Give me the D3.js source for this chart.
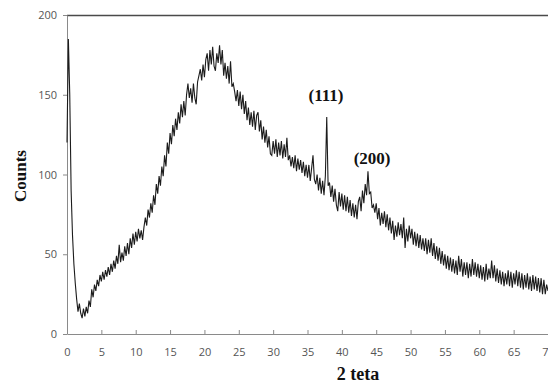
<!DOCTYPE html>
<html>
<head>
<meta charset="utf-8">
<script src="https://cdn.jsdelivr.net/npm/d3@7"></script>
<style>
  html, body { margin: 0; padding: 0; background: #fff; }
  svg { display: block; }
</style>
</head>
<body>
<svg id="chart" width="548" height="383"></svg>
<script>
// Scan grid: 0..70 degrees, 0.2 degree step
const ANGLE_STEP = 0.2;
const angles = d3.range(0, 70 + ANGLE_STEP / 2, ANGLE_STEP);

// Counts, one row per 2 degrees
const counts = [
  120, 185, 150, 90, 62, 44, 32, 22, 14, 19,
  13, 10, 16, 11, 17, 13, 21, 17, 28, 23,
  31, 27, 34, 30, 37, 33, 39, 34, 40, 36,
  42, 37, 44, 39, 46, 41, 49, 44, 56, 45,
  51, 46, 55, 49, 57, 50, 60, 54, 63, 56,
  64, 58, 66, 60, 65, 59, 67, 73, 68, 78,
  73, 82, 76, 87, 81, 94, 88, 99, 93, 105,
  99, 112, 105, 120, 113, 126, 119, 131, 124, 135,
  128, 139, 132, 144, 136, 146, 137, 150, 157, 148,
  154, 145, 157, 148, 144, 158, 162, 166, 159, 169,
  161, 172, 176, 165, 178, 169, 180, 168, 165, 176,
  170, 181, 169, 178, 162, 170, 160, 168, 157, 171,
  155, 157, 152, 146, 153, 143, 152, 141, 150, 138,
  146, 134, 142, 131, 139, 130, 140, 128, 137, 139,
  127, 134, 122, 130, 120, 128, 117, 124, 113, 112,
  121, 113, 122, 111, 120, 112, 121, 110, 119, 111,
  123, 109, 112, 105, 111, 104, 112, 102, 110, 103,
  109, 101, 108, 99, 106, 98, 106, 96, 104, 112,
  97, 94, 100, 90, 98, 88, 96, 87, 99, 136,
  93, 95, 86, 93, 83, 91, 81, 77, 89, 80,
  88, 78, 87, 77, 86, 76, 84, 74, 82, 73,
  81, 72, 83, 86, 77, 90, 82, 94, 87, 102,
  88, 89, 79, 81, 76, 82, 72, 79, 68, 76,
  69, 77, 67, 75, 65, 73, 63, 71, 59, 68,
  61, 70, 62, 69, 60, 73, 54, 66, 58, 68,
  60, 66, 56, 64, 55, 63, 54, 62, 53, 60,
  52, 60, 50, 59, 51, 60, 49, 57, 47, 55,
  46, 54, 44, 52, 43, 50, 41, 49, 40, 48,
  39, 47, 38, 46, 37, 49, 39, 47, 36, 45,
  37, 45, 35, 44, 36, 47, 37, 45, 36, 44,
  35, 43, 34, 42, 33, 44, 34, 41, 35, 46,
  35, 43, 33, 41, 32, 40, 31, 39, 30, 38,
  31, 40, 30, 39, 29, 38, 31, 40, 30, 39,
  29, 38, 28, 37, 29, 38, 28, 36, 27, 37,
  28, 36, 27, 35, 26, 35, 25, 34, 25, 31,
  27
];

const xTicks = [0, 5, 10, 15, 20, 25, 30, 35, 40, 45, 50, 55, 60, 65, 70];
const yTicks = [0, 50, 100, 150, 200];

const peakLabels = ['(111)', '(200)'];
const peakLabelAngles = [37.7, 44.4];
const peakLabelCounts = [146, 106.5];

const xTitle = '2 teta';
const yTitle = 'Counts';

const svg = d3.select('#chart');
const margin = { top: 15, left: 67, bottom: 49, right: 0 };
const height = 383;
const innerWidth = 481;
const innerHeight = height - margin.top - margin.bottom;

const x = d3.scaleLinear().domain([0, 70]).range([0, innerWidth]);
const y = d3.scaleLinear().domain([0, 200]).range([innerHeight, 0]);

const g = svg.append('g').attr('transform', `translate(${margin.left},${margin.top})`);

// Top border of the plot area (right side is cut off by the crop)
g.append('line')
  .attr('x1', 0).attr('x2', innerWidth + 5)
  .attr('y1', 0.5).attr('y2', 0.5)
  .attr('stroke', '#4a4a4a').attr('stroke-width', 1.3);

// Y axis
g.append('g')
  .call(d3.axisLeft(y).tickValues(yTicks).tickSizeInner(4).tickSizeOuter(0).tickPadding(6))
  .call((axis) => {
    axis.select('.domain').attr('stroke', '#8a8a8a');
    axis.selectAll('.tick line').attr('stroke', '#8a8a8a');
    axis.selectAll('.tick text')
      .attr('fill', '#555').attr('font-size', '11px').attr('font-family', 'Open Sans, sans-serif');
  });

// X axis, ticks pointing into the plot
g.append('g')
  .attr('transform', `translate(0,${innerHeight})`)
  .call(d3.axisBottom(x).tickValues(xTicks).tickSizeInner(-4).tickSizeOuter(0).tickPadding(14))
  .call((axis) => {
    axis.select('.domain').attr('stroke', '#8a8a8a');
    axis.selectAll('.tick line').attr('stroke', '#8a8a8a');
    axis.selectAll('.tick text')
      .attr('fill', '#555').attr('font-size', '11px').attr('font-family', 'Open Sans, sans-serif');
  });

// Diffraction pattern
const line = d3.line()
  .x((d, i) => x(angles[i]))
  .y((d) => y(d));

g.append('path')
  .datum(counts)
  .attr('fill', 'none')
  .attr('stroke', '#1c1c1c')
  .attr('stroke-width', 1.1)
  .attr('d', line);

// Peak labels
peakLabels.forEach((lab, i) => {
  g.append('text')
    .attr('x', x(peakLabelAngles[i]))
    .attr('y', y(peakLabelCounts[i]))
    .attr('text-anchor', 'middle')
    .attr('font-family', 'Liberation Serif, Times New Roman, serif')
    .attr('font-weight', 'bold')
    .attr('font-size', '17px')
    .attr('fill', '#111')
    .text(lab);
});

// Axis titles
svg.append('text')
  .attr('x', 358).attr('y', 380)
  .attr('text-anchor', 'middle')
  .attr('font-family', 'Liberation Serif, Times New Roman, serif')
  .attr('font-weight', 'bold')
  .attr('font-size', '18px')
  .attr('fill', '#111')
  .text(xTitle);

svg.append('text')
  .attr('transform', 'translate(26,176) rotate(-90)')
  .attr('text-anchor', 'middle')
  .attr('font-family', 'Liberation Serif, Times New Roman, serif')
  .attr('font-weight', 'bold')
  .attr('font-size', '17px')
  .attr('fill', '#111')
  .text(yTitle);
</script>
</body>
</html>
